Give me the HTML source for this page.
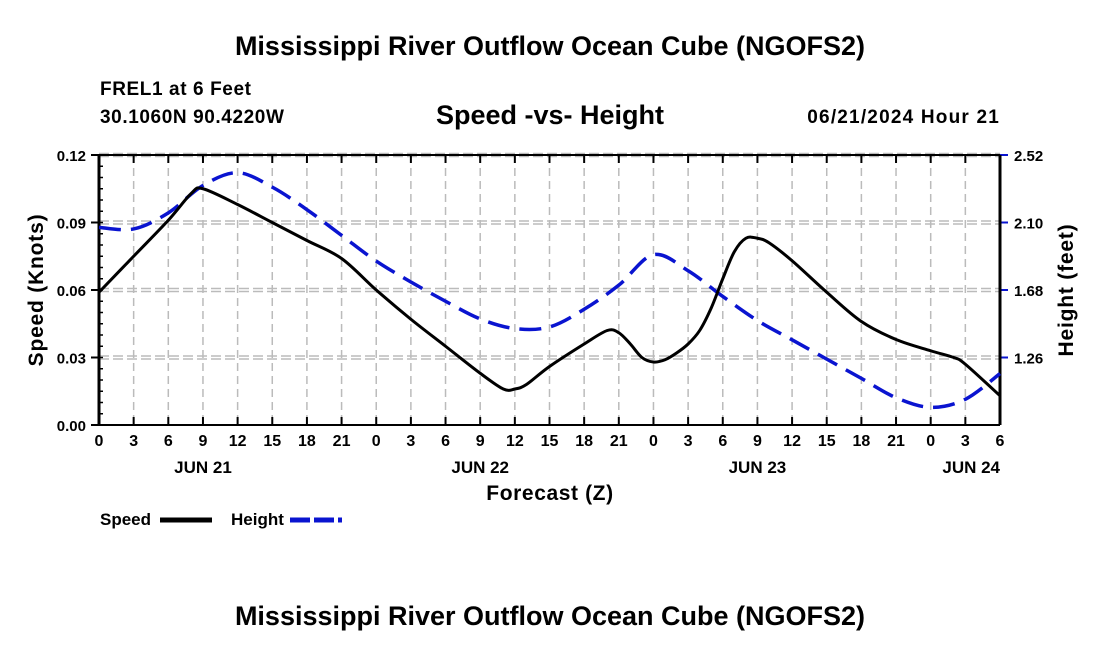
<!DOCTYPE html>
<html><head><meta charset="utf-8"><style>
body{margin:0;background:#fff;}
svg{display:block;font-family:"Liberation Sans",Arial,sans-serif;font-weight:bold;}
</style></head><body>
<svg width="1100" height="650">
<text x="550" y="55" text-anchor="middle" font-size="27">Mississippi River Outflow Ocean Cube (NGOFS2)</text>
<text x="100" y="95" font-size="19" letter-spacing="0.6">FREL1 at 6 Feet</text>
<text x="100" y="123" font-size="19" letter-spacing="0.6">30.1060N  90.4220W</text>
<text x="550" y="124" text-anchor="middle" font-size="27">Speed -vs- Height</text>
<text x="1000" y="123" text-anchor="end" font-size="19" letter-spacing="1.2">06/21/2024 Hour 21</text>
<g id="grid"></g>
<g id="axes"></g>
<path id="hgt" fill="none" stroke="#0a14d0" stroke-width="3.5" stroke-dasharray="22,10"/>
<path id="spd" fill="none" stroke="#000" stroke-width="3"/>
<text x="0" y="0" transform="translate(43,290) rotate(-90)" text-anchor="middle" font-size="21" letter-spacing="0.8">Speed (Knots)</text>
<text x="0" y="0" transform="translate(1073,290) rotate(-90)" text-anchor="middle" font-size="21" letter-spacing="0.8">Height (feet)</text>
<text x="550" y="500" text-anchor="middle" font-size="21" letter-spacing="0.6">Forecast (Z)</text>
<g><text x="100" y="525" font-size="17">Speed</text><line x1="160" y1="520" x2="212" y2="520" stroke="#000" stroke-width="5"/></g>
<g><text x="231" y="525" font-size="17">Height</text><line x1="290" y1="520" x2="342" y2="520" stroke="#0a14d0" stroke-width="5" stroke-dasharray="20,4"/></g>
<text x="550" y="625" text-anchor="middle" font-size="27">Mississippi River Outflow Ocean Cube (NGOFS2)</text>
</svg>
<script>
const speedHours=[0,3,6,8,9,12,15,18,21,24,27,30,33,35,36,37,39,42,44,45,46,47,48,49,50,51,52,53,54,55,56,57,58,60,63,66,69,72,74,75,78];
const speedVals=[0.059,0.075,0.091,0.103,0.105,0.098,0.090,0.082,0.074,0.060,0.047,0.035,0.023,0.016,0.016,0.018,0.026,0.036,0.042,0.041,0.036,0.030,0.028,0.029,0.032,0.036,0.042,0.052,0.065,0.077,0.083,0.083,0.081,0.073,0.059,0.046,0.038,0.033,0.030,0.027,0.013];
const heightHours=[0,3,6,9,12,15,18,21,24,27,30,33,36,39,42,45,48,51,54,57,60,63,66,69,72,75,78];
const heightVals=[2.07,2.06,2.16,2.33,2.41,2.32,2.18,2.02,1.86,1.73,1.61,1.50,1.44,1.45,1.56,1.71,1.90,1.80,1.64,1.49,1.37,1.25,1.13,1.01,0.95,1.00,1.16];
const speedTicks=[0,0.03,0.06,0.09,0.12];
const speedTickLabels=["0.00","0.03","0.06","0.09","0.12"];
const heightTicks=[1.26,1.68,2.10,2.52];
const heightTickLabels=["1.26","1.68","2.10","2.52"];
const hourLabels=["0","3","6","9","12","15","18","21","0","3","6","9","12","15","18","21","0","3","6","9","12","15","18","21","0","3","6"];
const dayLabels=["JUN 21","JUN 22","JUN 23","JUN 24"];
const dayHours=[9,33,57,78];
const L=99,R=1000,T=155,B=425;
const X=h=>L+h*(R-L)/78;
const YS=v=>B-v/0.12*(B-T);
const YH=v=>B-(v-0.84)/(2.52-0.84)*(B-T);
const NS='http://www.w3.org/2000/svg';
function mk(t,a,p){const e=document.createElementNS(NS,t);for(const k in a)e.setAttribute(k,a[k]);p.appendChild(e);return e;}
const grid=document.getElementById('grid'),axes=document.getElementById('axes');
hourLabels.forEach((l,i)=>{const x=X(i*3);
 const g=mk('line',{x1:x,y1:T,x2:x,y2:B,stroke:'#bbb','stroke-width':1.5,'stroke-dasharray':'8,5'},grid);
 
 mk('line',{x1:x,y1:B,x2:x,y2:B-8,stroke:'#000','stroke-width':2},axes);
 mk('line',{x1:x,y1:T,x2:x,y2:T+8,stroke:'#000','stroke-width':2},axes);
 const t=mk('text',{x:x,y:B+21,'text-anchor':'middle','font-size':16},axes);t.textContent=l;
 });
dayLabels.forEach((d,i)=>{const t=mk('text',{x:X(dayHours[i]),y:B+48,'text-anchor':i==3?'end':'middle','font-size':17},axes);
 if(i==3)t.setAttribute('x',R);t.textContent=d;
 });
speedTicks.forEach((v,i)=>{const y=YS(v);
 if(v>0){[-1.5,1.5].forEach(o=>mk('line',{x1:L,y1:y+o,x2:R,y2:y+o,stroke:'#bbb','stroke-width':1.5,'stroke-dasharray':'10,4'},grid));}
 mk('line',{x1:L-8,y1:y,x2:L,y2:y,stroke:'#000','stroke-width':2},axes);
 const t=mk('text',{x:L-13,y:y+6,'text-anchor':'end','font-size':15},axes);t.textContent=speedTickLabels[i];
 });
for(let k=0;k<=24;k++){const y=YS(k*0.005);mk('line',{x1:L,y1:y,x2:L+4,y2:y,stroke:'#000','stroke-width':1.5},axes);}
heightTicks.forEach((v,i)=>{const y=YH(v);
 mk('line',{x1:R,y1:y,x2:R+8,y2:y,stroke:'#0a14d0','stroke-width':2},axes);
 const t=mk('text',{x:R+14,y:y+6,'font-size':15},axes);t.textContent=heightTickLabels[i];
 });
mk('line',{x1:L,y1:T,x2:R,y2:T,stroke:'#000','stroke-width':2},axes);
mk('line',{x1:L,y1:B,x2:R,y2:B,stroke:'#000','stroke-width':2},axes);
mk('line',{x1:L,y1:T,x2:L,y2:B,stroke:'#000','stroke-width':3},axes);
mk('line',{x1:R,y1:T,x2:R,y2:B,stroke:'#000','stroke-width':3},axes);
function smooth(pts){let d='M'+pts[0][0]+','+pts[0][1];
 for(let i=0;i<pts.length-1;i++){const p0=pts[Math.max(0,i-1)],p1=pts[i],p2=pts[i+1],p3=pts[Math.min(pts.length-1,i+2)];
  d+=` C${p1[0]+(p2[0]-p0[0])/6},${p1[1]+(p2[1]-p0[1])/6} ${p2[0]-(p3[0]-p1[0])/6},${p2[1]-(p3[1]-p1[1])/6} ${p2[0]},${p2[1]}`;}
 return d;}
document.getElementById('spd').setAttribute('d',smooth(speedHours.map((h,i)=>[X(h),YS(speedVals[i])])));
document.getElementById('hgt').setAttribute('d',smooth(heightHours.map((h,i)=>[X(h),YH(heightVals[i])])));
</script>
</body></html>
